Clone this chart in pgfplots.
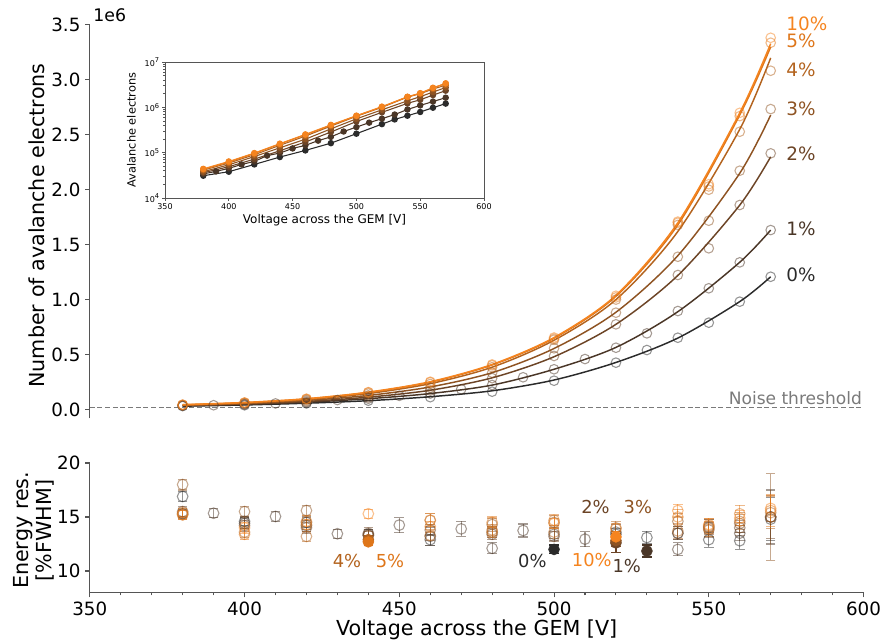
\documentclass[border=0pt]{standalone}
\usepackage{pgfplots}
\pgfplotsset{compat=1.18}
\usepackage{pgfplotstable}
\usepackage{fontspec}
\setmainfont{DejaVu Sans}

\definecolor{cA}{HTML}{2B2B2B}
\definecolor{cB}{HTML}{4A3627}
\definecolor{cC}{HTML}{6C4426}
\definecolor{cD}{HTML}{8E5322}
\definecolor{cE}{HTML}{B3631E}
\definecolor{cF}{HTML}{DE761A}
\definecolor{cG}{HTML}{F5841F}
\definecolor{spine}{HTML}{555555}
\definecolor{noise}{HTML}{7A7A7A}

% gain (in units of 1e6)
\pgfplotstableread{
x y
380 0.031
400 0.038
420 0.055
440 0.080
460 0.112
480 0.162
500 0.262
520 0.426
530 0.541
540 0.653
550 0.790
560 0.981
570 1.208
}\gainA
\pgfplotstableread{
x y
380 0.034
390 0.0387
400 0.045
410 0.055
420 0.064
430 0.086
440 0.098
450 0.124
460 0.145
470 0.184
480 0.223
490 0.293
500 0.366
510 0.459
520 0.562
530 0.693
540 0.896
550 1.103
560 1.339
570 1.633
}\gainB
\pgfplotstableread{
x y
380 0.036
400 0.049
420 0.072
440 0.110
460 0.172
480 0.285
500 0.487
520 0.775
540 1.224
550 1.467
560 1.861
570 2.331
}\gainC
\pgfplotstableread{
x y
380 0.038
400 0.054
420 0.082
440 0.128
460 0.198
480 0.335
500 0.557
520 0.881
540 1.390
550 1.718
560 2.173
570 2.734
}\gainD
\pgfplotstableread{
x y
380 0.041
400 0.059
420 0.090
440 0.145
460 0.232
480 0.385
500 0.635
520 1.000
540 1.680
550 2.000
560 2.528
570 3.083
}\gainE
\pgfplotstableread{
x y
380 0.043
400 0.062
420 0.096
440 0.155
460 0.248
480 0.402
500 0.645
520 1.020
540 1.700
550 2.030
560 2.670
570 3.338
}\gainF
\pgfplotstableread{
x y
380 0.044
400 0.064
420 0.098
440 0.158
460 0.253
480 0.410
500 0.655
520 1.035
540 1.710
550 2.050
560 2.700
570 3.383
}\gainG

% fitted curves
\pgfplotstableread{
x y
380 0.030
400 0.041
420 0.057
440 0.080
460 0.116
480 0.170
500 0.268
520 0.428
540 0.650
560 0.982
570 1.208
}\fitA
\pgfplotstableread{
x y
380 0.033
400 0.046
420 0.066
440 0.098
460 0.145
480 0.222
500 0.366
520 0.565
540 0.890
560 1.340
570 1.633
}\fitB
\pgfplotstableread{
x y
380 0.036
400 0.050
420 0.073
440 0.112
460 0.175
480 0.288
500 0.480
520 0.775
540 1.220
560 1.860
570 2.300
}\fitC
\pgfplotstableread{
x y
380 0.038
400 0.054
420 0.082
440 0.128
460 0.205
480 0.335
500 0.555
520 0.885
540 1.400
560 2.150
570 2.680
}\fitD
\pgfplotstableread{
x y
380 0.040
400 0.058
420 0.090
440 0.145
460 0.235
480 0.385
500 0.630
520 1.000
540 1.620
560 2.550
570 3.200
}\fitE
\pgfplotstableread{
x y
380 0.043
400 0.062
420 0.096
440 0.155
460 0.248
480 0.405
500 0.648
520 1.030
540 1.680
560 2.680
570 3.300
}\fitF
\pgfplotstableread{
x y
380 0.044
400 0.064
420 0.098
440 0.158
460 0.253
480 0.410
500 0.655
520 1.040
540 1.700
560 2.700
570 3.330
}\fitG

% energy resolution
\pgfplotstableread{
x y e
380 16.9 0.5
400 14.6 0.4
420 14.5 0.5
440 13.4 0.4
460 12.9 0.5
480 13.6 0.5
500 12.0 0.4
520 13.4 0.5
530 13.1 0.6
540 13.5 0.6
550 12.9 0.7
560 12.8 0.8
570 14.8 2.0
}\erA
\pgfplotstableread{
x y e
380 15.3 0.4
390 15.35 0.4
400 14.4 0.5
410 15.05 0.5
420 14.2 0.5
430 13.45 0.4
440 13.3 0.5
450 14.25 0.7
460 13.2 0.8
470 13.9 0.7
480 12.1 0.5
490 13.75 0.6
500 13.4 0.6
510 12.95 0.7
520 13.6 0.7
530 11.85 0.55
540 12.0 0.6
550 14.0 0.8
560 13.5 0.7
570 15.0 2.5
}\erB
\pgfplotstableread{
x y e
380 15.5 0.5
400 14.2 0.5
420 14.0 0.5
440 13.5 0.5
460 13.8 0.5
480 13.4 0.5
500 13.2 0.5
520 12.6 0.9
540 13.5 0.6
550 13.8 0.7
560 14.0 0.7
570 15.0 2.0
}\erC
\pgfplotstableread{
x y e
380 18.0 0.5
400 15.5 0.5
420 15.6 0.5
440 13.3 0.4
460 14.7 0.6
480 14.3 0.6
500 14.5 0.6
520 12.8 0.5
540 14.6 0.7
550 14.1 0.7
560 14.4 0.8
570 15.0 4.0
}\erD
\pgfplotstableread{
x y e
380 15.2 0.4
400 13.6 0.5
420 13.2 0.5
440 12.9 0.35
460 13.3 0.5
480 13.8 0.5
500 13.6 0.6
520 14.0 0.6
540 13.7 0.7
550 14.2 0.7
560 14.6 0.8
570 15.4 1.5
}\erE
\pgfplotstableread{
x y e
380 15.4 0.4
400 13.4 0.5
420 14.3 0.5
440 12.7 0.35
460 14.1 0.5
480 14.5 0.5
500 14.7 0.5
520 13.9 0.5
540 15.0 0.7
550 13.9 0.7
560 15.3 0.8
570 15.6 1.5
}\erF
\pgfplotstableread{
x y e
380 15.2 0.4
400 14.0 0.5
420 14.6 0.5
440 15.3 0.4
460 14.7 0.6
480 13.6 0.5
500 14.4 0.5
520 13.15 0.5
540 15.6 0.6
550 14.3 0.6
560 14.9 0.7
570 15.8 1.2
}\erG

\pgfplotsset{
  gainmark/.style={only marks, mark=o, mark size=3.6pt, mark options={draw=#1, draw opacity=0.5, line width=0.8pt}},
  fitline/.style={#1, line width=1.1pt, smooth, no marks},
  ermark/.style={only marks, mark=o, mark size=4pt, color=#1, opacity=0.5,
     mark options={line width=0.8pt},
     error bars/.cd, y dir=both, y explicit,
     error bar style={line width=0.8pt},
     error mark options={rotate=90, mark size=3.6pt, line width=0.8pt}},
  ermin/.style={only marks, mark=*, mark size=4pt, color=#1,
     error bars/.cd, y dir=both, y explicit,
     error bar style={line width=0.9pt},
     error mark options={rotate=90, mark size=3.6pt, line width=0.9pt}},
  insetline/.style={#1, line width=0.8pt, mark=*, mark size=2pt},
}

\begin{document}
\begin{tikzpicture}
\useasboundingbox (0pt,0pt) rectangle (663.75pt,481.5pt);

% ---------------- main axis ----------------
\begin{axis}[
  at={(67.35pt,167.8pt)}, anchor=south west, scale only axis,
  width=580.3pt, height=295pt,
  xmin=350, xmax=600, ymin=-0.08, ymax=3.5,
  axis x line=none, axis y line*=left,
  y axis line style={draw=spine, line width=0.8pt},
  clip=false,
  ytick={0,0.5,1,1.5,2,2.5,3,3.5},
  tick align=outside, major tick length=3.5pt,
  tick style={draw=spine, line width=0.8pt},
  yticklabel style={font=\fontsize{13.7}{16}\selectfont,
     /pgf/number format/.cd, fixed, fixed zerofill, precision=1, assume math mode=true},
  ylabel={Number of avalanche electrons},
  ylabel style={font=\fontsize{15.5}{18}\selectfont, at={(axis description cs:-0.068,0.49)}, anchor=center},
]
\addplot[noise, line width=0.8pt, dash pattern=on 3.75pt off 2pt] coordinates {(350,0.02) (600,0.02)};
\node[anchor=south east, text=noise, font=\fontsize{12.8}{15}\selectfont, inner sep=1pt] at (axis cs:600,0.025) {Noise threshold};

\addplot[fitline=cA] table {\fitA};
\addplot[fitline=cB] table {\fitB};
\addplot[fitline=cC] table {\fitC};
\addplot[fitline=cD] table {\fitD};
\addplot[fitline=cE] table {\fitE};
\addplot[fitline=cF] table {\fitF};
\addplot[fitline=cG] table {\fitG};

\addplot[gainmark=cA] table {\gainA};
\addplot[gainmark=cB] table {\gainB};
\addplot[gainmark=cC] table {\gainC};
\addplot[gainmark=cD] table {\gainD};
\addplot[gainmark=cE] table {\gainE};
\addplot[gainmark=cF] table {\gainF};
\addplot[gainmark=cG] table {\gainG};

\node[anchor=south west, inner sep=0pt, font=\fontsize{13}{15}\selectfont] at ([xshift=2.5pt,yshift=2pt]rel axis cs:0,1) {1e6};

\begin{scope}[font=\fontsize{13.8}{16}\selectfont, every node/.style={anchor=west, inner sep=0pt, text height=10pt, text depth=0pt}]
\node[text=cG] at (axis cs:575,3.51) {10\%};
\node[text=cF] at (axis cs:575,3.355) {5\%};
\node[text=cE] at (axis cs:575,3.095) {4\%};
\node[text=cD] at (axis cs:575,2.734) {3\%};
\node[text=cC] at (axis cs:575,2.331) {2\%};
\node[text=cB] at (axis cs:575,1.642) {1\%};
\node[text=cA] at (axis cs:575,1.224) {0\%};
\end{scope}
\end{axis}

% ---------------- inset ----------------
\begin{axis}[
  at={(123.75pt,333pt)}, anchor=south west, scale only axis,
  width=239.25pt, height=102pt,
  axis background/.style={fill=white},
  xmin=350, xmax=600, ymode=log, ymin=0.01, ymax=10,
  xtick={350,400,450,500,550,600},
  ytick={0.01,0.1,1,10},
  yticklabels={10\textsuperscript{4},10\textsuperscript{5},10\textsuperscript{6},10\textsuperscript{7}},
  xtick pos=left, ytick pos=left,
  axis line style={draw=spine, line width=0.6pt},
  tick align=outside, major tick length=2.2pt, minor tick length=1.3pt,
  tick style={draw=spine, line width=0.5pt},
  tick label style={font=\fontsize{6}{7}\selectfont},
  xticklabel style={/pgf/number format/assume math mode=true, inner sep=1.5pt},
  yticklabel style={inner sep=1.5pt},
  xlabel={Voltage across the GEM [V]},
  xlabel style={font=\fontsize{9}{10}\selectfont, at={(axis description cs:0.5,-0.16)}, anchor=center},
  ylabel={Avalanche electrons},
  ylabel style={font=\fontsize{8.5}{10}\selectfont, at={(axis description cs:-0.105,0.5)}, anchor=center},
]
\addplot[insetline=cA] table {\gainA};
\addplot[insetline=cB] table {\gainB};
\addplot[insetline=cC] table {\gainC};
\addplot[insetline=cD] table {\gainD};
\addplot[insetline=cE] table {\gainE};
\addplot[insetline=cF] table {\gainF};
\addplot[insetline=cG] table {\gainG};
\end{axis}

% ---------------- energy resolution ----------------
\begin{axis}[
  at={(67.35pt,37.05pt)}, anchor=south west, scale only axis,
  width=580.3pt, height=97.2pt,
  xmin=350, xmax=600, ymin=8, ymax=20,
  axis x line*=bottom, axis y line*=left,
  axis line style={draw=spine, line width=0.8pt},
  clip=false,
  xtick={350,400,450,500,550,600}, minor x tick num=4,
  ytick={10,15,20},
  tick align=outside, major tick length=3.5pt, minor tick length=2pt,
  tick style={draw=spine, line width=0.8pt},
  tick label style={font=\fontsize{13.7}{16}\selectfont, /pgf/number format/assume math mode=true},
  xlabel={Voltage across the GEM [V]},
  xlabel style={font=\fontsize{15.5}{18}\selectfont, at={(axis description cs:0.5,-0.29)}, anchor=center},
  ylabel={Energy res.\\{[\%FWHM]}},
  ylabel style={font=\fontsize{15.5}{17}\selectfont, align=center, at={(axis description cs:-0.072,0.48)}, anchor=center},
]
\addplot[ermark=cA] table[x=x,y=y,y error=e] {\erA};
\addplot[ermark=cB] table[x=x,y=y,y error=e] {\erB};
\addplot[ermark=cC] table[x=x,y=y,y error=e] {\erC};
\addplot[ermark=cD] table[x=x,y=y,y error=e] {\erD};
\addplot[ermark=cE] table[x=x,y=y,y error=e] {\erE};
\addplot[ermark=cF] table[x=x,y=y,y error=e] {\erF};
\addplot[ermark=cG] table[x=x,y=y,y error=e] {\erG};

\addplot[ermin=cE] coordinates {(440,12.9) +- (0,0.35)};
\addplot[ermin=cF] coordinates {(440,12.7) +- (0,0.35)};
\addplot[ermin=cA] coordinates {(500,12.0) +- (0,0.4)};
\addplot[ermin=cC] coordinates {(520,12.6) +- (0,0.9)};
\addplot[ermin=cD] coordinates {(520,12.8) +- (0,0.5)};
\addplot[ermin=cG] coordinates {(520,13.15) +- (0,0.5)};
\addplot[ermin=cB] coordinates {(530,11.85) +- (0,0.55)};

\begin{scope}[font=\fontsize{13.4}{16}\selectfont]
\node[text=cE, inner sep=0pt] at (axis cs:433.1,10.97) {4\%};
\node[text=cF, inner sep=0pt] at (axis cs:447.0,10.97) {5\%};
\node[text=cA, inner sep=0pt] at (axis cs:493.0,10.97) {0\%};
\node[text=cG, inner sep=0pt] at (axis cs:512.2,11.0) {10\%};
\node[text=cB, inner sep=0pt] at (axis cs:523.5,10.5) {1\%};
\node[text=cC, inner sep=0pt] at (axis cs:513.4,15.95) {2\%};
\node[text=cD, inner sep=0pt] at (axis cs:527.1,15.95) {3\%};
\end{scope}
\end{axis}
\end{tikzpicture}
\end{document}
